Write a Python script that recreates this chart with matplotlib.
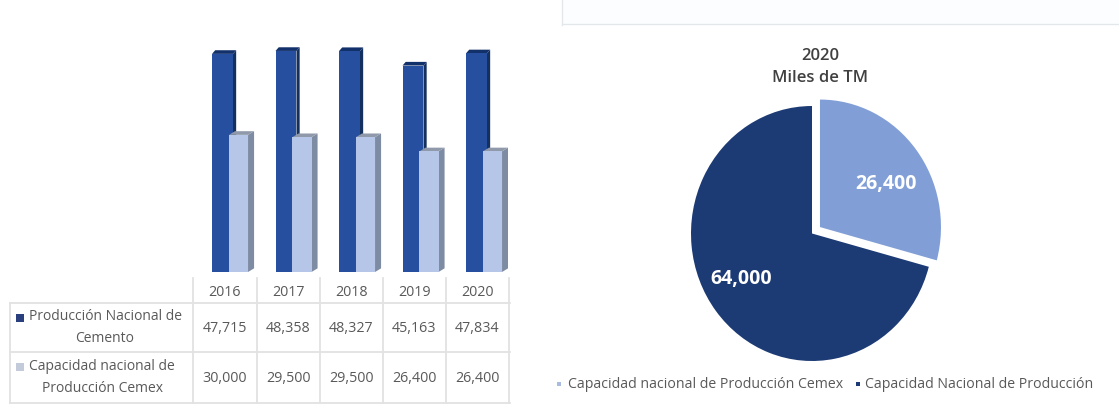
import matplotlib
matplotlib.use("Agg")
import matplotlib.pyplot as plt
from matplotlib.patches import Polygon, Rectangle
from matplotlib.lines import Line2D

W, H = 1119, 409

years = ["2016", "2017", "2018", "2019", "2020"]
produccion = [47715, 48358, 48327, 45163, 47834]
capacidad_cemex = [30000, 29500, 29500, 26400, 26400]
serie_produccion = ["Producción Nacional de", "Cemento"]
serie_cemex = ["Capacidad nacional de", "Producción Cemex"]

pie_title = "2020\nMiles de TM"
pie_labels = ["Capacidad nacional de Producción Cemex", "Capacidad Nacional de Producción"]
pie_values = [26400, 64000]

TEXT = "#595959"
GRID = "#e2e2e2"
DARK_FRONT, DARK_SIDE, DARK_TOP = "#26509f", "#14305f", "#12306a"
LIGHT_FRONT, LIGHT_SIDE, LIGHT_TOP = "#b6c6e8", "#7d8ba3", "#8f99aa"
PIE_DARK, PIE_LIGHT = "#1c3a74", "#819fd6"

plt.rcParams["font.family"] = ["Open Sans", "DejaVu Sans"]

fig = plt.figure(figsize=(W / 100, H / 100), dpi=100, facecolor="white")


def px_axes(x0, y0, x1, y1, **kw):
    """Axes placed by pixel box, with y counted from the top of the figure."""
    return fig.add_axes([x0 / W, 1 - y1 / H, (x1 - x0) / W, (y1 - y0) / H], **kw)


# Overlay in pixel units for the table rules, frame and legend
overlay = px_axes(0, 0, W, H)
overlay.set_xlim(0, W)
overlay.set_ylim(H, 0)
overlay.axis("off")

# Pale panel edge above the pie
overlay.add_patch(Rectangle((562, 0), W - 562, 24, fc="#fbfdfe", ec="none"))
overlay.add_line(Line2D([562, 562], [0, 25], color="#e3e7e9", lw=0.9))
overlay.add_line(Line2D([562, W], [24, 24], color="#e3e7e9", lw=0.9))

# Data table below the columns
col_x = [192.5, 257, 320, 383, 446, 509]
row_y = [303, 352, 403]
for y in row_y:
    overlay.add_line(Line2D([10, 510], [y, y], color=GRID, lw=1.3))
overlay.add_line(Line2D([10, 10], [row_y[0], row_y[2]], color=GRID, lw=1.3))
for x in col_x:
    overlay.add_line(Line2D([x, x], [278, row_y[2]], color=GRID, lw=1.3))

for i, year in enumerate(years):
    cx = (col_x[i] + col_x[i + 1]) / 2
    overlay.text(cx, 293, year, ha="center", va="center", color=TEXT, fontsize=10.3)
    overlay.text(cx, 328, f"{produccion[i]:,}", ha="center", va="center", color=TEXT, fontsize=10.3)
    overlay.text(cx, 378, f"{capacidad_cemex[i]:,}", ha="center", va="center", color=TEXT, fontsize=10.3)

overlay.add_patch(Rectangle((16, 314), 8, 8, fc="#2a3f7e", ec="none"))
overlay.add_patch(Rectangle((16, 363), 8, 8, fc="#c3cada", ec="none"))
overlay.text(29, 317, serie_produccion[0], ha="left", va="center", color=TEXT, fontsize=10)
overlay.text(105, 338, serie_produccion[1], ha="center", va="center", color=TEXT, fontsize=10)
overlay.text(29, 367, serie_cemex[0], ha="left", va="center", color=TEXT, fontsize=10)
overlay.text(103, 388, serie_cemex[1], ha="center", va="center", color=TEXT, fontsize=10)

# Columns with a drawn 3-D side and top
ax = px_axes(190, 0, 507.5, 272)
ax.set_xlim(-0.5, 4.5)
ax.set_ylim(0, 59500)
ax.axis("off")
ax.patch.set_alpha(0)


def column(x_left, width, value, front, side, top, dx, dy=800):
    x_right = x_left + width
    ax.add_patch(Polygon([(x_right, 0), (x_right + dx, dy), (x_right + dx, value + dy), (x_right, value)],
                         fc=side, ec="none"))
    ax.add_patch(Polygon([(x_left, value), (x_left + dx, value + dy), (x_right + dx, value + dy), (x_right, value)],
                         fc=top, ec="none"))
    ax.bar(x_left, value, width=width, align="edge", color=front, lw=0)


for i in range(len(years)):
    column(i - 0.153, 0.33, produccion[i], DARK_FRONT, DARK_SIDE, DARK_TOP, dx=0.05)
    column(i + 0.114, 0.30, capacidad_cemex[i], LIGHT_FRONT, LIGHT_SIDE, LIGHT_TOP, dx=0.095)

# Pie, pulled-out Cemex slice first, clockwise from twelve o'clock; its box is slightly taller than wide
rx, ry = 121, 127.5
pie_ax = px_axes(812 - 150, 233.5 - 150, 812 + 150, 233.5 + 150)
wedges, _ = pie_ax.pie(pie_values, colors=[PIE_LIGHT, PIE_DARK], startangle=90, counterclock=False,
                       explode=[0.083, 0], radius=1, wedgeprops={"lw": 0})
pie_ax.set_aspect("auto")
pie_ax.set_xlim(-150 / rx, 150 / rx)
pie_ax.set_ylim(-150 / ry, 150 / ry)
pie_ax.patch.set_alpha(0)

overlay.set_zorder(3)
overlay.text(886, 184, f"{pie_values[0]:,}", ha="center", va="center", color="white",
             fontsize=14, fontweight="bold")
overlay.text(741, 279, f"{pie_values[1]:,}", ha="center", va="center", color="white",
             fontsize=14, fontweight="bold")
overlay.text(820, 67, pie_title, ha="center", va="center", color="#404040", fontsize=12,
             fontweight="semibold", linespacing=1.45)

# Legend under the pie
overlay.add_patch(Rectangle((557, 382), 4, 4, fc="#a9bce0", ec="none"))
overlay.text(568, 384, pie_labels[0], ha="left", va="center", color=TEXT, fontsize=10.2)
overlay.add_patch(Rectangle((856, 382), 4, 4, fc=PIE_DARK, ec="none"))
overlay.text(865, 384, pie_labels[1], ha="left", va="center", color=TEXT, fontsize=10.15)

fig.savefig("out.png", dpi=100)
